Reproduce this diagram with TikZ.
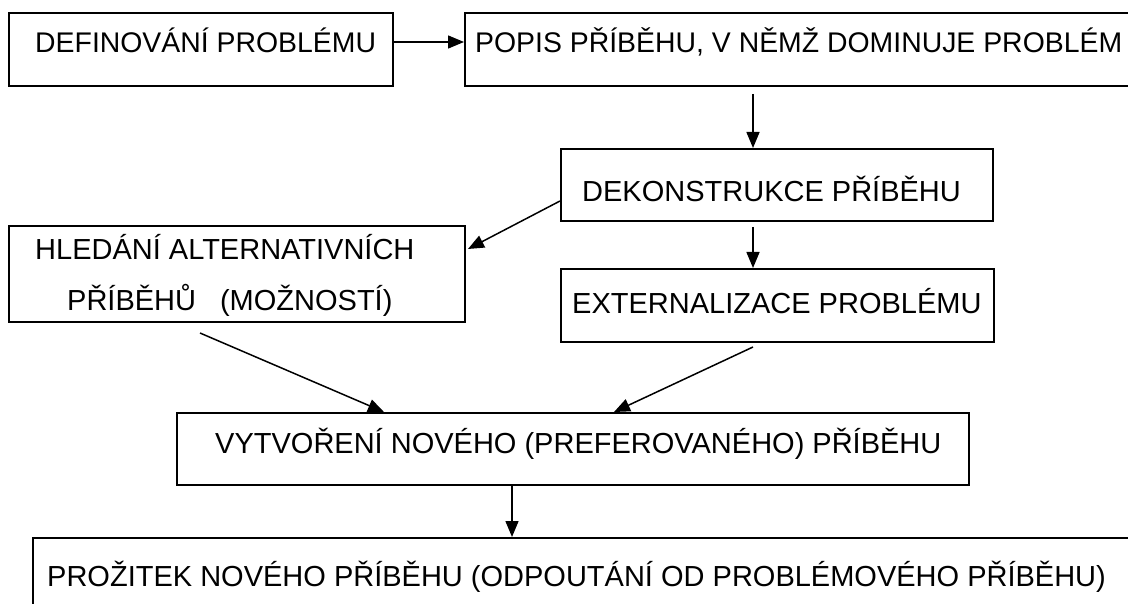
\documentclass[tikz,border=0pt]{standalone}
\usepackage{fontspec}
\setmainfont{Liberation Sans}
\usetikzlibrary{arrows.meta,calc}
\begin{document}
\begin{tikzpicture}[x=1pt,y=-1pt,
  box/.style={draw,rectangle,inner sep=0pt,line width=2pt},
  lbl/.style={anchor=base west,inner sep=0pt,font=\fontsize{29}{34}\selectfont},
  lbltop/.style={lbl,font=\fontsize{28.4}{34}\selectfont},
  arr/.style={line width=1.5pt,-{Triangle[length=16pt,width=13pt]}}]
\useasboundingbox (0,0) rectangle (1128,604);
\clip (0,0) rectangle (1128,604);
\fill[white] (0,0) rectangle (1128,604);
% boxes
\node[box,minimum width=384pt,minimum height=73pt] (b1) at (201,49.5) {};
\node[box,minimum width=680pt,minimum height=73pt] (b2) at (805,49.5) {};
\node[box,minimum width=432pt,minimum height=72pt] (b3) at (777,185) {};
\node[box,minimum width=433pt,minimum height=73pt] (b4) at (777.5,305.5) {};
\node[box,minimum width=456pt,minimum height=96pt] (b5) at (237,274) {};
\node[box,minimum width=792pt,minimum height=72pt] (b6) at (573,449) {};
\node[box,minimum width=1120pt,minimum height=110pt] (b7) at (593,593) {};
% texts
\node[lbltop] (t1) at (35,53) {DEFINOVÁNÍ PROBLÉMU};
\node[lbltop] (t2) at (475,53) {POPIS PŘÍBĚHU, V NĚMŽ DOMINUJE PROBLÉM};
\node[lbl] (t3) at (582,202) {DEKONSTRUKCE PŘÍBĚHU};
\node[lbl] (t4) at (572,313) {EXTERNALIZACE PROBLÉMU};
\node[lbl] (t5a) at (35,260) {HLEDÁNÍ ALTERNATIVNÍCH};
\node[lbl] (t5b) at (67,310) {PŘÍBĚHŮ\hspace{24pt}(MOŽNOSTÍ)};
\node[lbl] (t6) at (215,453) {VYTVOŘENÍ NOVÉHO (PREFEROVANÉHO) PŘÍBĚHU};
\node[lbl] (t7) at (47,586) {PROŽITEK NOVÉHO PŘÍBĚHU (ODPOUTÁNÍ OD PROBLÉMOVÉHO PŘÍBĚHU)};
% connectors
\draw[arr] ($(b1.north east)+(0,30)$) -- ($(b2.north west)+(0,30)$);
\draw[arr] ($(b2.south west)+(289,7)$) -- ($(b3.north west)+(193,0)$);
\draw[arr] ($(b3.south west)+(193,5)$) -- ($(b4.north west)+(193,0)$);
\draw[arr] ($(b3.north west)+(0,53)$) -- ($(b5.north east)+(2,24)$);
\draw[arr] ($(b5.south west)+(192,10)$) -- ($(b6.north west)+(208,0)$);
\draw[arr] ($(b4.south west)+(193,4)$) -- ($(b6.north west)+(438,0)$);
\draw[arr] ($(b6.south west)+(336,0)$) -- ($(b7.north west)+(480,0)$);
\end{tikzpicture}
\end{document}
